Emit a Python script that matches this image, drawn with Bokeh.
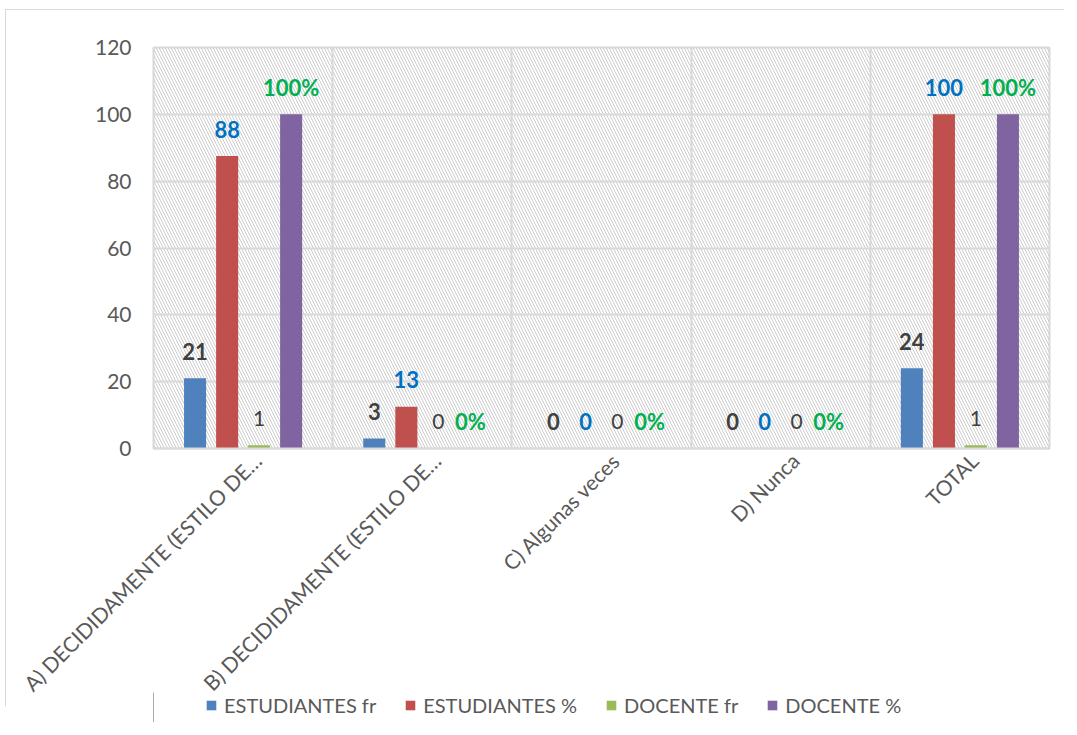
import math
import numpy as np
from bokeh.plotting import figure
from bokeh.layouts import column
from bokeh.models import (ColumnDataSource, Range1d, FixedTicker, BoxAnnotation,
                          Legend, LegendItem)
from bokeh.core.properties import value
from bokeh.embed import file_html
from bokeh.resources import INLINE

categories = ["A) DECIDIDAMENTE (ESTILO DE…", "B) DECIDIDAMENTE (ESTILO DE…",
              "C) Algunas veces", "D) Nunca", "TOTAL"]
series_names = ["ESTUDIANTES fr", "ESTUDIANTES %", "DOCENTE fr", "DOCENTE %"]
est_fr = [21, 3, 0, 0, 24]
est_pct = [87.5, 12.5, 0, 0, 100]
doc_fr = [1, 0, 0, 0, 1]
doc_pct = [100, 0, 0, 0, 100]
est_fr_labels = ["21", "3", "0", "0", "24"]
est_pct_labels = ["88", "13", "0", "0", "100"]
doc_fr_labels = ["1", "0", "0", "0", "1"]
doc_pct_labels = ["100%", "0%", "0%", "0%", "100%"]
y_ticks = [0, 20, 40, 60, 80, 100, 120]

FONT = "Lato"
colors = ["#4F81BD", "#C0504D", "#9BBB59", "#8064A2"]
label_colors = ["#404040", "#0070C0", "#404040", "#00B050"]
label_styles = ["bold", "bold", "normal", "bold"]
offsets = [-0.268, -0.089, 0.089, 0.268]
bar_w = 0.123
BORDER = "1px solid #d9d9d9"

p = figure(frame_width=895, frame_height=400, output_backend="svg",
           toolbar_location=None,
           x_range=Range1d(0, len(categories)), y_range=Range1d(0, 120),
           min_border_left=147, min_border_right=16, min_border_top=37,
           min_border_bottom=245)
p.styles = {"margin-left": "5px", "margin-top": "9px",
            "border-left": BORDER, "border-top": BORDER}

bg = BoxAnnotation(level="image", fill_color=None, line_color=None,
                   hatch_pattern="\\", hatch_color="#cccccc", hatch_scale=6,
                   hatch_weight=1)
p.add_layout(bg)

idx = np.arange(len(categories))
all_vals = [est_fr, est_pct, doc_fr, doc_pct]
all_labels = [est_fr_labels, est_pct_labels, doc_fr_labels, doc_pct_labels]
for k in range(4):
    src = ColumnDataSource(dict(x=idx + 0.5 + offsets[k], top=all_vals[k],
                                lab=all_labels[k]))
    p.vbar(x="x", top="top", bottom=0, width=bar_w, source=src,
           fill_color=colors[k], line_color=None)
    p.text(x="x", y="top", text="lab", source=src, text_align="center",
           text_baseline="alphabetic", y_offset=-27,
           text_font=value(FONT),
           text_font_size="22px" if label_styles[k] == "bold" else "21px",
           text_font_style=label_styles[k], text_color=label_colors[k])

tick_pos = [float(i + 0.5 + 0.08) for i in idx]
p.xaxis.ticker = FixedTicker(ticks=tick_pos)
p.xaxis.major_label_overrides = {t: c for t, c in zip(tick_pos, categories)}
p.xaxis.major_label_orientation = math.pi / 4
p.xaxis.major_label_text_font = FONT
p.xaxis.major_label_text_font_size = "21px"
p.xaxis.major_label_text_color = "#595959"
p.xaxis.major_tick_line_color = None
p.xaxis.minor_tick_line_color = None
p.xaxis.major_tick_out = 0
p.xaxis.major_tick_in = 0
p.xaxis.major_label_standoff = 8
p.xaxis.axis_line_color = "#d9d9d9"
p.xaxis.axis_line_width = 2

p.yaxis.ticker = FixedTicker(ticks=y_ticks)
p.yaxis.major_label_text_font = FONT
p.yaxis.major_label_text_font_size = "21px"
p.yaxis.major_label_text_color = "#595959"
p.yaxis.major_tick_line_color = None
p.yaxis.minor_tick_line_color = None
p.yaxis.major_tick_out = 0
p.yaxis.major_tick_in = 0
p.yaxis.major_label_standoff = 22
p.yaxis.axis_line_color = None

p.ygrid.ticker = FixedTicker(ticks=y_ticks)
p.ygrid.grid_line_color = "#d9d9d9"
p.ygrid.grid_line_width = 2
p.xgrid.ticker = FixedTicker(ticks=list(range(len(categories) + 1)))
p.xgrid.grid_line_color = "#d9d9d9"
p.xgrid.grid_line_width = 2
p.outline_line_color = "#d9d9d9"
p.outline_line_width = 2
p.background_fill_color = "white"

# legend strip below the chart
p2 = figure(frame_width=1058, frame_height=30, output_backend="svg",
            toolbar_location=None, x_range=Range1d(0, 1), y_range=Range1d(0, 1),
            x_axis_location=None, y_axis_location=None,
            min_border_left=0, min_border_right=0, min_border_top=0,
            min_border_bottom=0)
p2.styles = {"margin-left": "6px", "margin-top": "-14px"}
p2.grid.visible = False
p2.outline_line_color = None
p2.background_fill_alpha = 0
p2.border_fill_alpha = 0
items = []
for k in range(4):
    # off-range swatch renderers: only their legend glyphs are visible
    r = p2.vbar(x=[-5], top=[1], bottom=0, width=0.1, fill_color=colors[k],
                line_color=None)
    items.append(LegendItem(label=series_names[k], renderers=[r]))
legend = Legend(items=items, orientation="horizontal", location=(199, 5),
                label_text_font=FONT, label_text_font_size="20px",
                label_text_color="#595959", glyph_width=12, glyph_height=12,
                label_standoff=7, spacing=28, padding=0, margin=0,
                border_line_color=None, background_fill_alpha=0)
p2.add_layout(legend, "center")

open("out.html", "w").write(file_html(column(p, p2), INLINE))
